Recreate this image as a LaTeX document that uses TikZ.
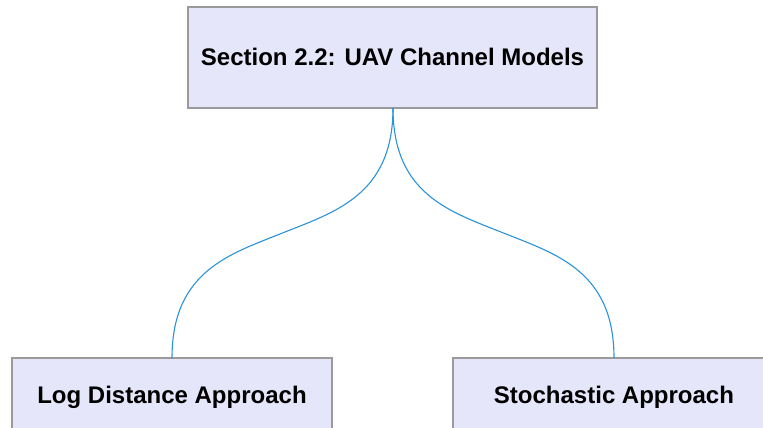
\documentclass[tikz,border=0pt]{standalone}
\usepackage{fontspec}
\setmainfont{Liberation Sans}
\definecolor{boxfill}{HTML}{E6E6FA}
\definecolor{boxline}{HTML}{9A9A9A}
\definecolor{linkblue}{HTML}{2A93DA}
\begin{document}
\begin{tikzpicture}[x=1pt,y=-1pt,
  box/.style={draw=boxline,fill=boxfill,line width=1.2pt},
  lbl/.style={font=\fontsize{24}{28}\selectfont\bfseries,text=black,inner sep=0pt,anchor=base},
  link/.style={draw=linkblue,line width=1.1pt}]
\useasboundingbox (0,0) rectangle (763,428);
\begin{scope}
\clip (0,0) rectangle (763,428);
% boxes
\draw[box] (188,7) rectangle (597,108);
\draw[box] (12,358) rectangle (332,470);
\draw[box] (453,358) rectangle (790,470);
\end{scope}
\coordinate (top) at (393,108);
\coordinate (lefttop) at (172,358);
\coordinate (righttop) at (614,358);
\coordinate (lmid) at (282.5,233);
\coordinate (rmid) at (503.5,233);
\node[lbl] (main) at (392.5,65.5) {Section 2.2: UAV Channel Models};
\node[lbl] (logd) at (172,403) {Log Distance Approach};
\node[lbl] (stoch) at (614,403) {Stochastic Approach};
% connectors
\draw[link] (top) .. controls (393,195) and (335,212) .. (lmid)
  .. controls (230,254) and (172,271) .. (lefttop);
\draw[link] (top) .. controls (393,195) and (451,212) .. (rmid)
  .. controls (556,254) and (614,271) .. (righttop);
\end{tikzpicture}
\end{document}
